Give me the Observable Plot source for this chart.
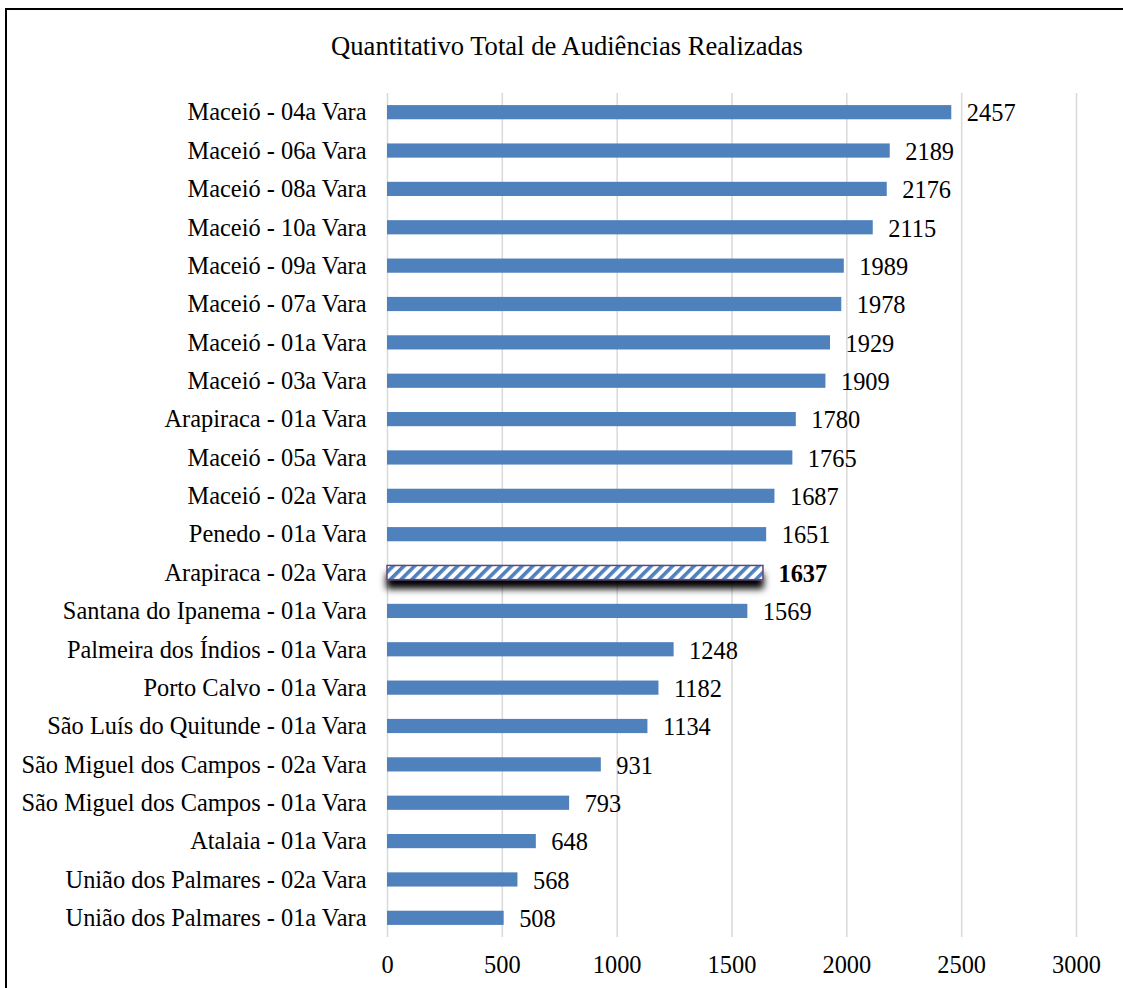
<!DOCTYPE html>
<html>
<head>
<meta charset="utf-8">
<script src="https://cdn.jsdelivr.net/npm/d3@7"></script>
<script src="https://cdn.jsdelivr.net/npm/@observablehq/plot@0.6"></script>
<style>
  html, body { margin: 0; padding: 0; background: #fff; overflow: hidden; }
  #frame { position: absolute; left: 5px; top: 8px; width: 1200px; height: 1100px;
           border-left: 2px solid #000; border-top: 2px solid #000; }
  #title { position: absolute; left: 567px; top: 30px; transform: translateX(-50%);
           font-family: "Liberation Serif", "Times New Roman", serif; font-size: 26.6px; line-height: 32px; color: #000; white-space: nowrap; }
  #chart { position: absolute; left: 0; top: 0; }
</style>
</head>
<body>
<div id="frame"></div>
<div id="title">Quantitativo Total de Audiências Realizadas</div>
<div id="chart"></div>
<script>
const categories = [
  "Maceió - 04a Vara", "Maceió - 06a Vara", "Maceió - 08a Vara", "Maceió - 10a Vara",
  "Maceió - 09a Vara", "Maceió - 07a Vara", "Maceió - 01a Vara", "Maceió - 03a Vara",
  "Arapiraca - 01a Vara", "Maceió - 05a Vara", "Maceió - 02a Vara", "Penedo - 01a Vara",
  "Arapiraca - 02a Vara", "Santana do Ipanema - 01a Vara", "Palmeira dos Índios - 01a Vara",
  "Porto Calvo - 01a Vara", "São Luís do Quitunde - 01a Vara", "São Miguel dos Campos - 02a Vara",
  "São Miguel dos Campos - 01a Vara", "Atalaia - 01a Vara", "União dos Palmares - 02a Vara",
  "União dos Palmares - 01a Vara"
];
const values = [2457, 2189, 2176, 2115, 1989, 1978, 1929, 1909, 1780, 1765, 1687, 1651,
  1637, 1569, 1248, 1182, 1134, 931, 793, 648, 568, 508];
const highlighted = "Arapiraca - 02a Vara";
const xTicks = [0, 500, 1000, 1500, 2000, 2500, 3000];

const data = categories.map((c, i) => ({name: c, value: values[i]}));
const normal = data.filter(d => d.name !== highlighted);
const special = data.filter(d => d.name === highlighted);

const chart = Plot.plot({
  width: 1123,
  height: 988,
  marginLeft: 387,
  marginRight: 47,
  marginTop: 93,
  marginBottom: 51,
  style: {fontFamily: "'Liberation Serif', 'Times New Roman', serif", fontSize: "24.4px", color: "#000", background: "transparent"},
  x: {domain: [0, 3000], ticks: xTicks, label: null},
  y: {domain: categories, paddingInner: 0.63, paddingOuter: 0.315, round: false, label: null},
  marks: [
    Plot.gridX(xTicks, {stroke: "#d9d9d9", strokeOpacity: 1, strokeWidth: 1.5}),
    Plot.axisX({ticks: xTicks, tickSize: 0, tickPadding: 18, fontSize: 24.4, label: null, tickFormat: d => String(d)}),
    Plot.axisY({tickSize: 0, tickPadding: 21, fontSize: 24.4, label: null}),
    Plot.barX(normal, {x: "value", y: "name", fill: "#4f81bd"}),
    Plot.barX(special, {x: "value", y: "name", fill: "url(#hatch)", stroke: "#5f497a", strokeWidth: 1.5, className: "hl"}),
    Plot.text(normal, {x: "value", y: "name", text: d => String(d.value), textAnchor: "start", dx: 15, dy: 1, fontSize: 24.4, fill: "#000"}),
    Plot.text(special, {x: "value", y: "name", text: d => String(d.value), textAnchor: "start", dx: 15, dy: 1, fontSize: 24.4, fontWeight: "bold", fill: "#000"})
  ]
});

const ns = "http://www.w3.org/2000/svg";
const defs = document.createElementNS(ns, "defs");
defs.innerHTML = `
  <pattern id="hatch" patternUnits="userSpaceOnUse" width="7.6" height="7.6" patternTransform="rotate(45)">
    <rect x="0" y="0" width="7.6" height="7.6" fill="#ffffff"></rect>
    <rect x="0" y="0" width="3.6" height="7.6" fill="#4f81bd"></rect>
  </pattern>
  <filter id="shadow" x="-5%" y="-100%" width="110%" height="450%">
    <feDropShadow dx="0" dy="8.5" stdDeviation="3.8" flood-color="#000" flood-opacity="1"></feDropShadow>
  </filter>`;
chart.insertBefore(defs, chart.firstChild);
const hl = chart.querySelector("g.hl") || chart.querySelector(".hl");
if (hl) hl.setAttribute("filter", "url(#shadow)");
document.getElementById("chart").appendChild(chart);
</script>
</body>
</html>
